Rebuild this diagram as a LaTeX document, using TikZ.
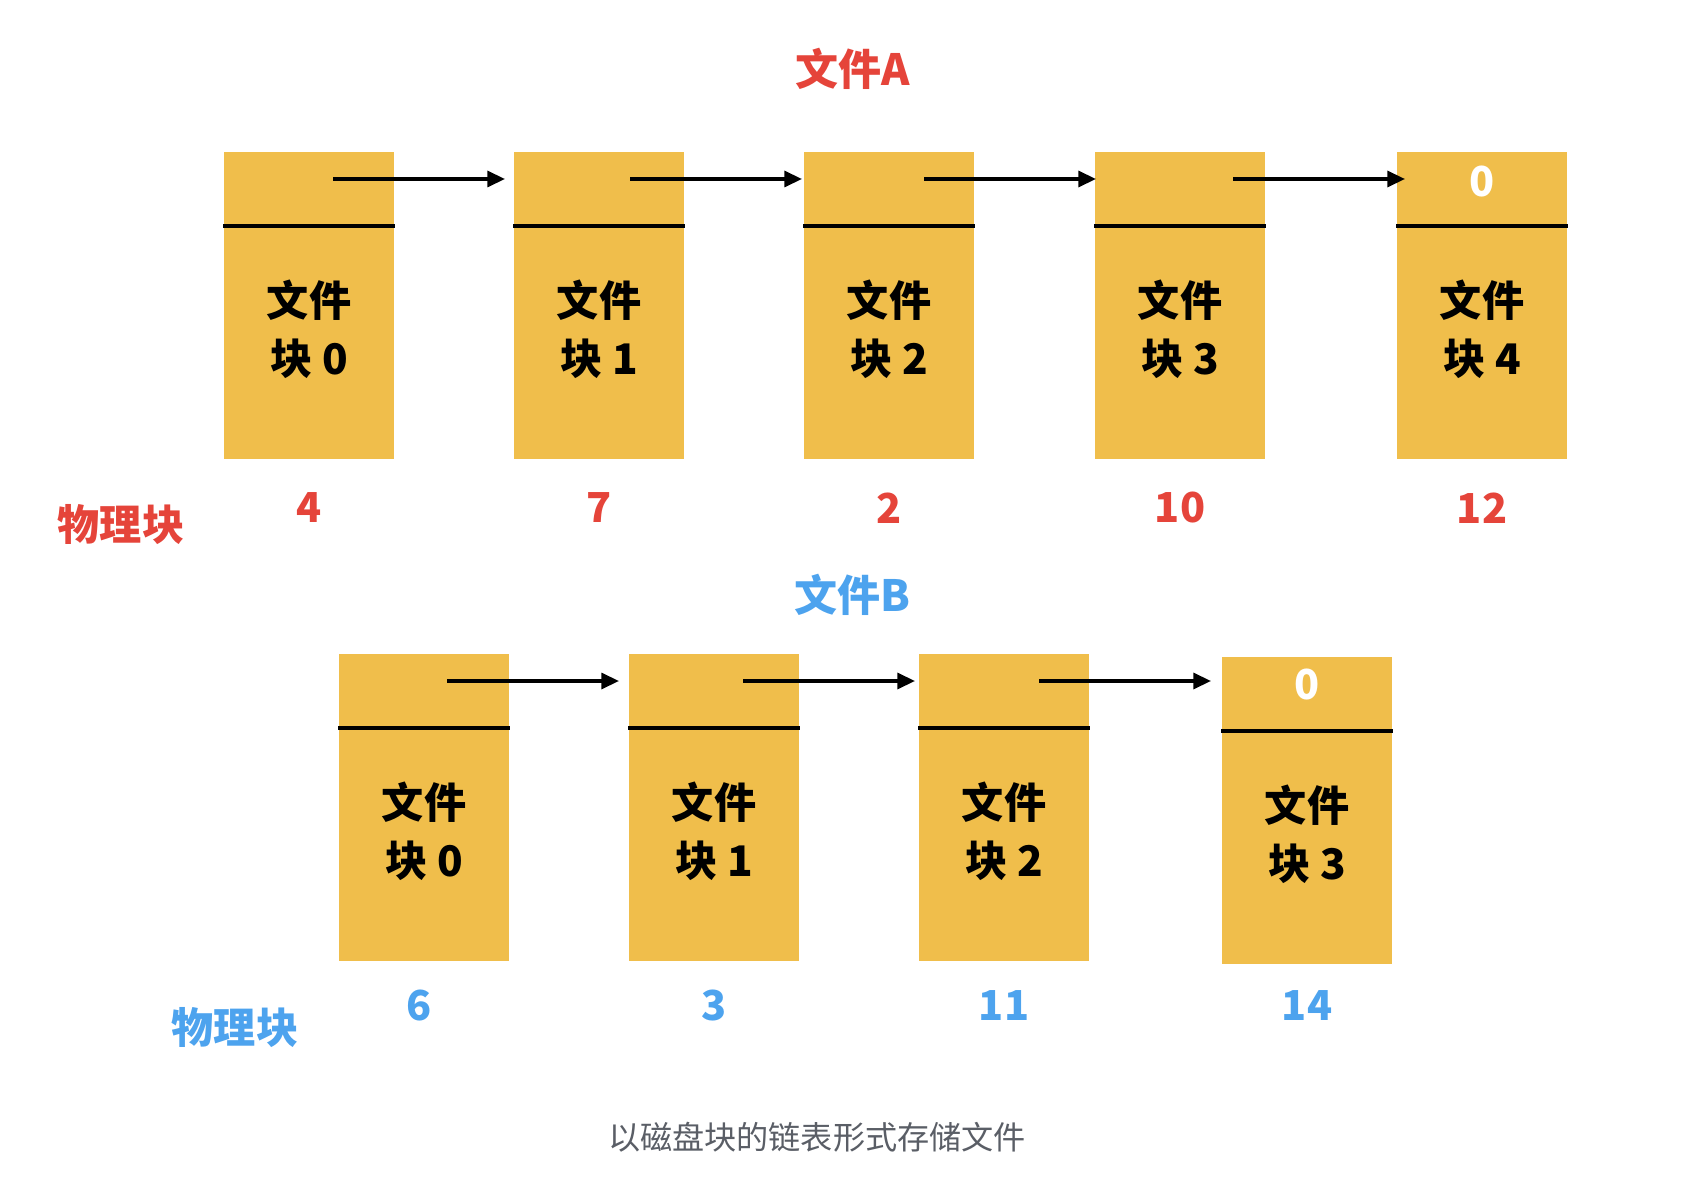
\documentclass[tikz,border=0pt]{standalone}
\usepackage{fontspec}
\usetikzlibrary{arrows.meta}
\newfontfamily\cjk{Noto Sans CJK SC}
\definecolor{blockyellow}{HTML}{F0BE4B}
\definecolor{fileared}{HTML}{E5443A}
\definecolor{filebblue}{HTML}{4DA3EE}
\definecolor{captiongray}{HTML}{5A5E66}
\tikzset{
    block/.style={rectangle, fill=blockyellow, minimum width=3.4cm, minimum height=6.14cm, inner sep=0pt, anchor=north west},
    divider/.style={line width=2pt},
    ptr/.style={-{Triangle[length=10pt, width=9pt]}, line width=1.9pt},
    blocktext/.style={font=\cjk\bfseries\fontsize{24}{33}\selectfont, align=center, inner sep=0pt},
    bignum/.style={font=\cjk\bfseries\fontsize{23.5}{28}\selectfont, inner sep=0pt},
    title/.style={font=\cjk\bfseries\fontsize{24.5}{28}\selectfont, inner sep=0pt},
    caption/.style={font=\cjk\fontsize{18.3}{22}\selectfont, text=captiongray, inner sep=0pt}
}
\begin{document}
\begin{tikzpicture}[x=0.02cm, y=-0.02cm]
    \useasboundingbox (0,0) rectangle (1704,1182);

        % File A.
        \node[title, text=fileared] (title_A) at (853,69) {文件A};
        \foreach \n/\x/\p in {0/224/4, 1/514/7, 2/804/2, 3/1095/10, 4/1397/12} {
            \node[block] (A-\n) at (\x,152) {};
            \draw[divider] (\x-1,226) -- (\x+171,226);
            \node[blocktext] (T_A-\n) at (\x+85,329) {文件\\块 \n};
            \node[bignum, text=fileared] (N_A-\n) at (\x+85,508) {\p};
        }
        \node[bignum, text=white] (Z_A) at (1482,182) {0};
        \node[blocktext, text=fileared] (P_A) at (121,525) {物理块};

        % File A pointers.
        \foreach \n/\s in {0/333, 1/630, 2/924, 3/1233} {
            \coordinate (S_A-\n) at (\s,179);
            \coordinate (E_A-\n) at (\s+172,179);
            \draw[ptr] (S_A-\n) -- (E_A-\n);
        }

        % File B.
        \node[title, text=filebblue] (title_B) at (852,595) {文件B};
        \foreach \n/\x/\t/\p in {0/339/654/6, 1/629/654/3, 2/919/654/11, 3/1222/657/14} {
            \node[block] (B-\n) at (\x,\t) {};
            \draw[divider] (\x-1,\t+74) -- (\x+171,\t+74);
            \node[blocktext] (T_B-\n) at (\x+85,\t+177) {文件\\块 \n};
        }
        \foreach \n/\x/\p in {0/419/6, 1/714/3, 2/1004/11, 3/1307/14}
            \node[bignum, text=filebblue] (N_B-\n) at (\x,1006) {\p};
        \node[bignum, text=white] (Z_B) at (1307,685) {0};
        \node[blocktext, text=filebblue] (P_B) at (235,1028) {物理块};

        % File B pointers.
        \foreach \n/\s in {0/447, 1/743, 2/1039} {
            \coordinate (S_B-\n) at (\s,681);
            \coordinate (E_B-\n) at (\s+172,681);
            \draw[ptr] (S_B-\n) -- (E_B-\n);
        }

        % Caption.
        \node[caption] (cap) at (817,1137) {以磁盘块的链表形式存储文件};

    \end{tikzpicture}
\end{document}
